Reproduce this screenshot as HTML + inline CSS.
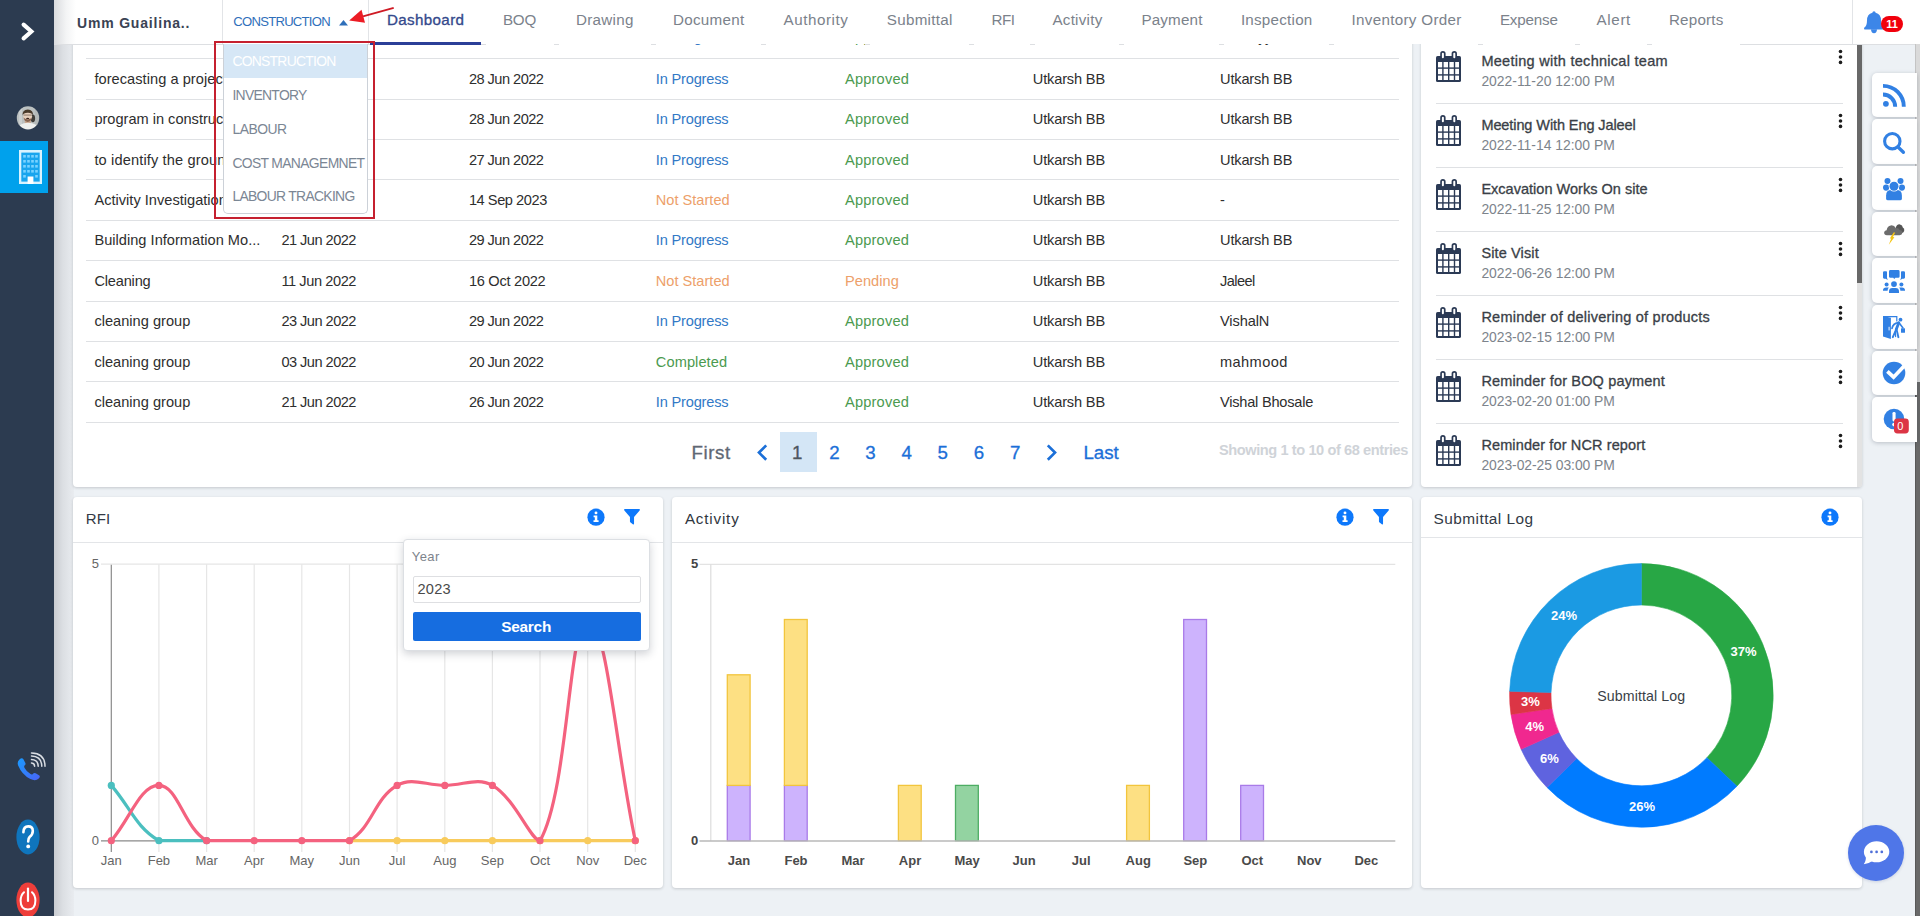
<!DOCTYPE html>
<html lang="en">
<head>
<meta charset="utf-8">
<title>Dashboard</title>
<style>
*{box-sizing:border-box;margin:0;padding:0}
html,body{width:1920px;height:916px;overflow:hidden}
body{position:relative;background:#edf1f5;font-family:"Liberation Sans",sans-serif;color:#2f2f2f;font-size:15px}
.abs{position:absolute}
svg{display:block}
/* sidebar */
#side{position:absolute;left:0;top:0;width:54px;height:916px;background:#2c3b50;z-index:30}
#sideshadow{position:absolute;left:54px;top:0;width:20px;height:916px;background:linear-gradient(90deg,#c9ccd1 0%,#dcdfe3 45%,#e9ecf0 100%);z-index:1}
#side .active{position:absolute;left:0;top:141px;width:48px;height:52px;background:#00a1ec}
/* topnav */
#top{position:absolute;left:54px;top:0;width:1866px;height:44px;background:#fff;z-index:20}
#top .shade{position:absolute;left:0;top:0;width:22px;height:44px;background:linear-gradient(90deg,#d9dbde 0%,#f3f4f5 55%,#fff 100%)}
#top .vsep{position:absolute;top:0;width:1px;height:44px;background:#e2e4e7}
.t{position:absolute;white-space:nowrap;line-height:20px}
.nav{color:#7b828b;font-size:15.5px;top:12px}
/* cards */
.card{position:absolute;background:#fff;border-radius:4px;box-shadow:0 1px 3px rgba(40,45,50,.2);z-index:2}
.hl{position:absolute;height:1px;background:#dfe1e4}
.row{color:#2e2e2e;font-size:15.5px}
.c-blue{color:#3279c6}.c-green{color:#4b9a4f}.c-orange{color:#eda06a}
</style>
</head>
<body>
<div id="sideshadow"></div>
<!-- SIDEBAR -->
<div id="side">
  <svg class="abs" style="left:18px;top:18px" width="20" height="26" viewBox="0 0 20 26"><path d="M5.6 6.6 L13.4 13.5 L5.6 20.4" fill="none" stroke="#fff" stroke-width="4.1" stroke-linecap="round" stroke-linejoin="miter"/></svg>
  <!-- avatar -->
  <svg class="abs" style="left:16px;top:105.5px" width="24" height="24" viewBox="0 0 24 24">
    <defs><clipPath id="av"><ellipse cx="12" cy="11.9" rx="11.2" ry="11.6"/></clipPath><filter id="avb" x="-10%" y="-10%" width="120%" height="120%"><feGaussianBlur stdDeviation=".55"/></filter></defs>
    <g clip-path="url(#av)"><g filter="url(#avb)">
      <rect x="-2" y="-2" width="28" height="28" fill="#bcc1c1"/>
      <rect x="3" y="-2" width="3" height="20" fill="#cbcfcf"/>
      <rect x="19" y="-2" width="6" height="20" fill="#b4b9b9"/>
      <ellipse cx="16.9" cy="12.4" rx="2.2" ry="3.8" fill="#3f3d38"/>
      <rect x="8.8" y="13.5" width="6" height="5" fill="#c9a68d"/>
      <ellipse cx="12" cy="23" rx="10.4" ry="6.3" fill="#eff0ee"/>
      <ellipse cx="11.7" cy="10.2" rx="4.4" ry="5.3" fill="#e6cfbc"/>
      <path d="M6.6 9.4 Q6 4 11.8 3.6 Q17.6 4 16.9 9.4 Q16.2 6.6 11.8 6.7 Q7.4 6.6 6.6 9.4Z" fill="#4a3a2b"/>
      <path d="M7.6 11.6 Q8.2 15.8 11.7 15.9 Q15.2 15.8 15.8 11.6 Q14.6 13.4 11.7 13.2 Q8.8 13.4 7.6 11.6Z" fill="#86634f"/>
      <rect x="7.6" y="8.7" width="8.2" height=".7" fill="#6a574a"/>
      <ellipse cx="11.7" cy="12.4" rx="1.6" ry=".6" fill="#3b241c"/>
    </g></g>
  </svg>
  <div class="active"></div>
  <!-- building icon -->
  <svg class="abs" style="left:19px;top:150px" width="23" height="34" viewBox="0 0 23 34">
    <rect x="0" y="0" width="23" height="34" fill="#d9f3ff"/>
    <rect x="2.3" y="2.6" width="18.4" height="29" fill="#19a5ee"/>
    <g fill="#7ad3ff">
      <rect x="4.2" y="5" width="2.6" height="2.6"/><rect x="8.2" y="5" width="2.6" height="2.6"/><rect x="12.2" y="5" width="2.6" height="2.6"/><rect x="16.2" y="5" width="2.6" height="2.6"/>
      <rect x="4.2" y="10" width="2.6" height="2.6"/><rect x="8.2" y="10" width="2.6" height="2.6"/><rect x="12.2" y="10" width="2.6" height="2.6"/><rect x="16.2" y="10" width="2.6" height="2.6"/>
      <rect x="4.2" y="15" width="2.6" height="2.6"/><rect x="8.2" y="15" width="2.6" height="2.6"/><rect x="12.2" y="15" width="2.6" height="2.6"/><rect x="16.2" y="15" width="2.6" height="2.6"/>
      <rect x="4.2" y="20" width="2.6" height="2.6"/><rect x="8.2" y="20" width="2.6" height="2.6"/><rect x="12.2" y="20" width="2.6" height="2.6"/><rect x="16.2" y="20" width="2.6" height="2.6"/>
      <rect x="4.2" y="25" width="2.6" height="2.6"/><rect x="16.2" y="25" width="2.6" height="2.6"/>
    </g>
    <rect x="8.6" y="26.5" width="5.8" height="7.5" fill="#fff"/>
  </svg>
  <!-- phone -->
  <svg class="abs" style="left:16px;top:750px" width="32" height="34" viewBox="0 0 32 34">
    <defs><linearGradient id="ph" x1="0" y1="0" x2="1" y2="1"><stop offset="0" stop-color="#199bff"/><stop offset="1" stop-color="#4a63f5"/></linearGradient></defs>
    <g transform="translate(-.4 4) scale(.85)"><path d="M4.5 6.5 Q7.5 3.5 9 6 L11.5 10.5 Q12.3 12.2 10.5 13.6 Q9.6 14.5 10.6 16.4 Q13 21 17.6 23.6 Q19.2 24.5 20.2 23.4 Q21.8 21.6 23.6 22.6 L27.5 25 Q29.6 26.4 27.2 28.8 Q23.6 32.4 17.4 29.4 Q7.4 24.2 3 13.4 Q1.4 9.4 4.5 6.5Z" fill="url(#ph)"/></g>
    <g fill="none" stroke="#d9dde3" stroke-width="1.5" stroke-linecap="round" transform="translate(-1 1.6)">
      <path d="M16.5 11.5 Q19.5 11.6 19.6 14.6"/>
      <path d="M16.5 8 Q23 8.2 23.2 14.6"/>
      <path d="M16.5 4.5 Q26.6 4.8 26.8 14.6"/>
      <path d="M16.5 1.4 Q29.8 1.6 30 14.6"/>
    </g>
  </svg>
  <!-- help -->
  <svg class="abs" style="left:16px;top:819px" width="24" height="36" viewBox="0 0 24 36">
    <ellipse cx="12" cy="18" rx="11.6" ry="17.4" fill="#0f75bd"/>
    <path d="M7.4 13.2 Q7.6 7.4 12.2 7.4 Q16.8 7.4 16.8 12 Q16.8 15.4 13.6 18 Q12.2 19.4 12.2 22.4" fill="none" stroke="#fff" stroke-width="2.6" stroke-linecap="round"/>
    <circle cx="12.2" cy="27.4" r="1.9" fill="#fff"/>
  </svg>
  <!-- power -->
  <svg class="abs" style="left:16px;top:882px" width="24" height="36" viewBox="0 0 24 36">
    <ellipse cx="12" cy="18" rx="11.6" ry="17.4" fill="#ee3e3a"/>
    <path d="M8 10.2 Q4.6 13.2 4.6 18.6 Q4.6 27.6 12 27.6 Q19.4 27.6 19.4 18.6 Q19.4 13.2 16 10.2" fill="none" stroke="#fff" stroke-width="2" stroke-linecap="round"/>
    <path d="M12 6.6 V19" stroke="#fff" stroke-width="2.2" stroke-linecap="round"/>
  </svg>
</div>
<!-- TOPNAV -->
<div id="top">
  <div class="shade"></div>
  <div class="vsep" style="left:168px"></div>
  <svg class="abs" style="left:285px;top:20px" width="9" height="6" viewBox="0 0 9 6"><path d="M0 5.5 L4.5 0 L9 5.5Z" fill="#2f6fba"/></svg>
  <div class="vsep" style="left:314px"></div>
  <!-- red arrow -->
  <svg class="abs" style="left:290px;top:2px" width="54" height="26" viewBox="0 0 54 26"><path d="M49.7 5.9 L19 14.3" stroke="#cf1a24" stroke-width="1.9" fill="none"/><path d="M5.2 18.4 L17.5 7.8 L21 20.7Z" fill="#ec1c25"/></svg>
  <div class="abs" style="left:316px;top:42px;width:111px;height:3px;background:#2b3f98;z-index:3"></div>
  <div class="vsep" style="left:1798px;top:0;height:44px"></div>
  <!-- bell -->
  <svg class="abs" style="left:1809px;top:10px" width="22" height="24" viewBox="0 0 22 24"><path d="M11 1.2 Q12.6 1.2 12.6 2.8 Q18 4.2 18 10.4 Q18 15.6 20.6 17.6 Q21.4 18.4 20.6 19.4 L1.4 19.4 Q.6 18.4 1.4 17.6 Q4 15.6 4 10.4 Q4 4.2 9.4 2.8 Q9.4 1.2 11 1.2Z" fill="#3c86e8"/><path d="M8 19.2 H14 Q13.8 23.2 11 23.2 Q8.2 23.2 8 19.2Z" fill="#3c86e8"/></svg>
  <div class="abs" style="left:1827px;top:16px;width:22px;height:16px;border-radius:8px;background:#f1000c;color:#fff;font-size:11px;font-weight:bold;text-align:center;line-height:16px">11</div>
</div>
<div class="t" id="x1" style="left:77.0px;top:13px;font-size:14px;color:#3a4354;font-weight:bold;z-index:21;letter-spacing:0.81px;">Umm Guailina..</div>
<div class="t" id="x2" style="left:233.3px;top:12px;font-size:13.1px;color:#2f6fba;z-index:21;letter-spacing:-0.74px;">CONSTRUCTION</div>
<div class="t" id="x3" style="left:386.9px;top:10px;font-size:15.2px;color:#34498c;-webkit-text-stroke:.32px #34498c;z-index:21;letter-spacing:0.35px;">Dashboard</div>
<div class="t" id="x4" style="left:502.9px;top:10px;font-size:15.2px;color:#7b828b;z-index:21;letter-spacing:-0.17px;">BOQ</div>
<div class="t" id="x5" style="left:575.9px;top:10px;font-size:15.2px;color:#7b828b;z-index:21;letter-spacing:0.29px;">Drawing</div>
<div class="t" id="x6" style="left:672.9px;top:10px;font-size:15.2px;color:#7b828b;z-index:21;letter-spacing:0.31px;">Document</div>
<div class="t" id="x7" style="left:783.5px;top:10px;font-size:15.2px;color:#7b828b;z-index:21;letter-spacing:0.55px;">Authority</div>
<div class="t" id="x8" style="left:886.8px;top:10px;font-size:15.2px;color:#7b828b;z-index:21;letter-spacing:0.28px;">Submittal</div>
<div class="t" id="x9" style="left:991.5px;top:10px;font-size:15.2px;color:#7b828b;z-index:21;letter-spacing:-0.52px;">RFI</div>
<div class="t" id="x10" style="left:1052.4px;top:10px;font-size:15.2px;color:#7b828b;z-index:21;letter-spacing:0.26px;">Activity</div>
<div class="t" id="x11" style="left:1141.4px;top:10px;font-size:15.2px;color:#7b828b;z-index:21;letter-spacing:0.17px;">Payment</div>
<div class="t" id="x12" style="left:1240.9px;top:10px;font-size:15.2px;color:#7b828b;z-index:21;letter-spacing:0.24px;">Inspection</div>
<div class="t" id="x13" style="left:1351.6px;top:10px;font-size:15.2px;color:#7b828b;z-index:21;letter-spacing:0.30px;">Inventory Order</div>
<div class="t" id="x14" style="left:1499.9px;top:10px;font-size:15.2px;color:#7b828b;z-index:21;letter-spacing:-0.18px;">Expense</div>
<div class="t" id="x15" style="left:1596.6px;top:10px;font-size:15.2px;color:#7b828b;z-index:21;letter-spacing:0.62px;">Alert</div>
<div class="t" id="x16" style="left:1668.9px;top:10px;font-size:15.2px;color:#7b828b;z-index:21;letter-spacing:0.21px;">Reports</div>
<div class="abs" style="left:54px;top:44px;width:316px;height:1px;background:#dddfe2;z-index:11"></div>
<div class="abs" style="left:481.0px;top:44px;width:5px;height:1px;background:#dddfe2;z-index:11"></div>
<div class="abs" style="left:554.0px;top:44px;width:5px;height:1px;background:#dddfe2;z-index:11"></div>
<div class="abs" style="left:650.5px;top:44px;width:5px;height:1px;background:#dddfe2;z-index:11"></div>
<div class="abs" style="left:761.3px;top:44px;width:5px;height:1px;background:#dddfe2;z-index:11"></div>
<div class="abs" style="left:864.7px;top:44px;width:5px;height:1px;background:#dddfe2;z-index:11"></div>
<div class="abs" style="left:969.4px;top:44px;width:5px;height:1px;background:#dddfe2;z-index:11"></div>
<div class="abs" style="left:1030.4px;top:44px;width:5px;height:1px;background:#dddfe2;z-index:11"></div>
<div class="abs" style="left:1119.3px;top:44px;width:5px;height:1px;background:#dddfe2;z-index:11"></div>
<div class="abs" style="left:1219.0px;top:44px;width:5px;height:1px;background:#dddfe2;z-index:11"></div>
<div class="abs" style="left:1329.4px;top:44px;width:5px;height:1px;background:#dddfe2;z-index:11"></div>
<div class="abs" style="left:1478.0px;top:44px;width:5px;height:1px;background:#dddfe2;z-index:11"></div>
<div class="abs" style="left:1574.7px;top:44px;width:5px;height:1px;background:#dddfe2;z-index:11"></div>
<div class="abs" style="left:1647.0px;top:44px;width:5px;height:1px;background:#dddfe2;z-index:11"></div>
<div class="abs" style="left:1740px;top:44px;width:180px;height:1px;background:#dddfe2;z-index:11"></div>
<div class="card" style="left:73px;top:-20px;width:1339px;height:507.3px"></div>
<div id="tbl" class="abs" style="left:0;top:0;width:1920px;height:500px;z-index:3">
<div class="hl" style="left:86px;top:58px;width:1313px"></div>
<div class="hl" style="left:86px;top:99px;width:1313px"></div>
<div class="hl" style="left:86px;top:139px;width:1313px"></div>
<div class="hl" style="left:86px;top:179px;width:1313px"></div>
<div class="hl" style="left:86px;top:220px;width:1313px"></div>
<div class="hl" style="left:86px;top:260px;width:1313px"></div>
<div class="hl" style="left:86px;top:301px;width:1313px"></div>
<div class="hl" style="left:86px;top:341px;width:1313px"></div>
<div class="hl" style="left:86px;top:381px;width:1313px"></div>
<div class="hl" style="left:86px;top:422px;width:1313px"></div>
<div class="t" id="x17" style="left:94.4px;top:27px;font-size:14.6px;color:#2e2e2e;letter-spacing:0.46px;">activity for project</div>
<div class="t" id="x18" style="left:281.4px;top:27px;font-size:14.6px;color:#2e2e2e;letter-spacing:-0.53px;">20 Jun 2022</div>
<div class="t" id="x19" style="left:468.9px;top:27px;font-size:14.6px;color:#2e2e2e;letter-spacing:-0.53px;">28 Jun 2022</div>
<div class="t" id="x20" style="left:655.8px;top:27px;font-size:14.6px;color:#3279c6;letter-spacing:-0.18px;">In Progress</div>
<div class="t" id="x21" style="left:845.0px;top:27px;font-size:14.6px;color:#4b9a4f;letter-spacing:0.19px;">Approved</div>
<div class="t" id="x22" style="left:1032.8px;top:27px;font-size:14.6px;color:#2e2e2e;letter-spacing:-0.16px;">Utkarsh BB</div>
<div class="t" id="x23" style="left:1220.0px;top:27px;font-size:14.6px;color:#2e2e2e;letter-spacing:-0.56px;">Jaleel yy</div>
<div class="t" id="x24" style="left:94.4px;top:69px;font-size:14.6px;color:#2e2e2e;letter-spacing:0.05px;">forecasting a project</div>
<div class="t" id="x25" style="left:281.4px;top:69px;font-size:14.6px;color:#2e2e2e;letter-spacing:-0.53px;">20 Jun 2022</div>
<div class="t" id="x26" style="left:468.9px;top:69px;font-size:14.6px;color:#2e2e2e;letter-spacing:-0.53px;">28 Jun 2022</div>
<div class="t" id="x27" style="left:655.8px;top:69px;font-size:14.6px;color:#3279c6;letter-spacing:-0.18px;">In Progress</div>
<div class="t" id="x28" style="left:845.0px;top:69px;font-size:14.6px;color:#4b9a4f;letter-spacing:0.19px;">Approved</div>
<div class="t" id="x29" style="left:1032.8px;top:69px;font-size:14.6px;color:#2e2e2e;letter-spacing:-0.16px;">Utkarsh BB</div>
<div class="t" id="x30" style="left:1220.0px;top:69px;font-size:14.6px;color:#2e2e2e;letter-spacing:-0.16px;">Utkarsh BB</div>
<div class="t" id="x31" style="left:94.4px;top:109px;font-size:14.6px;color:#2e2e2e;letter-spacing:-0.01px;">program in construction</div>
<div class="t" id="x32" style="left:281.4px;top:109px;font-size:14.6px;color:#2e2e2e;letter-spacing:-0.53px;">20 Jun 2022</div>
<div class="t" id="x33" style="left:468.9px;top:109px;font-size:14.6px;color:#2e2e2e;letter-spacing:-0.53px;">28 Jun 2022</div>
<div class="t" id="x34" style="left:655.8px;top:109px;font-size:14.6px;color:#3279c6;letter-spacing:-0.18px;">In Progress</div>
<div class="t" id="x35" style="left:845.0px;top:109px;font-size:14.6px;color:#4b9a4f;letter-spacing:0.19px;">Approved</div>
<div class="t" id="x36" style="left:1032.8px;top:109px;font-size:14.6px;color:#2e2e2e;letter-spacing:-0.16px;">Utkarsh BB</div>
<div class="t" id="x37" style="left:1220.0px;top:109px;font-size:14.6px;color:#2e2e2e;letter-spacing:-0.16px;">Utkarsh BB</div>
<div class="t" id="x38" style="left:94.4px;top:150px;font-size:14.6px;color:#2e2e2e;letter-spacing:0.14px;">to identify the ground</div>
<div class="t" id="x39" style="left:281.4px;top:150px;font-size:14.6px;color:#2e2e2e;letter-spacing:-0.53px;">20 Jun 2022</div>
<div class="t" id="x40" style="left:468.9px;top:150px;font-size:14.6px;color:#2e2e2e;letter-spacing:-0.53px;">27 Jun 2022</div>
<div class="t" id="x41" style="left:655.8px;top:150px;font-size:14.6px;color:#3279c6;letter-spacing:-0.18px;">In Progress</div>
<div class="t" id="x42" style="left:845.0px;top:150px;font-size:14.6px;color:#4b9a4f;letter-spacing:0.19px;">Approved</div>
<div class="t" id="x43" style="left:1032.8px;top:150px;font-size:14.6px;color:#2e2e2e;letter-spacing:-0.16px;">Utkarsh BB</div>
<div class="t" id="x44" style="left:1220.0px;top:150px;font-size:14.6px;color:#2e2e2e;letter-spacing:-0.16px;">Utkarsh BB</div>
<div class="t" id="x45" style="left:94.4px;top:190px;font-size:14.6px;color:#2e2e2e;letter-spacing:0.01px;">Activity Investigation</div>
<div class="t" id="x46" style="left:281.4px;top:190px;font-size:14.6px;color:#2e2e2e;letter-spacing:-0.53px;">20 Jun 2022</div>
<div class="t" id="x47" style="left:468.9px;top:190px;font-size:14.6px;color:#2e2e2e;letter-spacing:-0.44px;">14 Sep 2023</div>
<div class="t" id="x48" style="left:655.8px;top:190px;font-size:14.6px;color:#eda06a;letter-spacing:0.00px;">Not Started</div>
<div class="t" id="x49" style="left:845.0px;top:190px;font-size:14.6px;color:#4b9a4f;letter-spacing:0.19px;">Approved</div>
<div class="t" id="x50" style="left:1032.8px;top:190px;font-size:14.6px;color:#2e2e2e;letter-spacing:-0.16px;">Utkarsh BB</div>
<div class="t" id="x51" style="left:1220.0px;top:190px;font-size:14.6px;color:#2e2e2e;">-</div>
<div class="t" id="x52" style="left:94.4px;top:230px;font-size:14.6px;color:#2e2e2e;letter-spacing:0.02px;">Building Information Mo...</div>
<div class="t" id="x53" style="left:281.4px;top:230px;font-size:14.6px;color:#2e2e2e;letter-spacing:-0.53px;">21 Jun 2022</div>
<div class="t" id="x54" style="left:468.9px;top:230px;font-size:14.6px;color:#2e2e2e;letter-spacing:-0.53px;">29 Jun 2022</div>
<div class="t" id="x55" style="left:655.8px;top:230px;font-size:14.6px;color:#3279c6;letter-spacing:-0.18px;">In Progress</div>
<div class="t" id="x56" style="left:845.0px;top:230px;font-size:14.6px;color:#4b9a4f;letter-spacing:0.19px;">Approved</div>
<div class="t" id="x57" style="left:1032.8px;top:230px;font-size:14.6px;color:#2e2e2e;letter-spacing:-0.16px;">Utkarsh BB</div>
<div class="t" id="x58" style="left:1220.0px;top:230px;font-size:14.6px;color:#2e2e2e;letter-spacing:-0.16px;">Utkarsh BB</div>
<div class="t" id="x59" style="left:94.4px;top:271px;font-size:14.6px;color:#2e2e2e;letter-spacing:-0.18px;">Cleaning</div>
<div class="t" id="x60" style="left:281.4px;top:271px;font-size:14.6px;color:#2e2e2e;letter-spacing:-0.42px;">11 Jun 2022</div>
<div class="t" id="x61" style="left:468.9px;top:271px;font-size:14.6px;color:#2e2e2e;letter-spacing:-0.27px;">16 Oct 2022</div>
<div class="t" id="x62" style="left:655.8px;top:271px;font-size:14.6px;color:#eda06a;letter-spacing:0.00px;">Not Started</div>
<div class="t" id="x63" style="left:845.0px;top:271px;font-size:14.6px;color:#eda06a;letter-spacing:0.05px;">Pending</div>
<div class="t" id="x64" style="left:1032.8px;top:271px;font-size:14.6px;color:#2e2e2e;letter-spacing:-0.16px;">Utkarsh BB</div>
<div class="t" id="x65" style="left:1220.0px;top:271px;font-size:14.6px;color:#2e2e2e;letter-spacing:-0.56px;">Jaleel</div>
<div class="t" id="x66" style="left:94.4px;top:311px;font-size:14.6px;color:#2e2e2e;letter-spacing:0.01px;">cleaning group</div>
<div class="t" id="x67" style="left:281.4px;top:311px;font-size:14.6px;color:#2e2e2e;letter-spacing:-0.53px;">23 Jun 2022</div>
<div class="t" id="x68" style="left:468.9px;top:311px;font-size:14.6px;color:#2e2e2e;letter-spacing:-0.53px;">29 Jun 2022</div>
<div class="t" id="x69" style="left:655.8px;top:311px;font-size:14.6px;color:#3279c6;letter-spacing:-0.18px;">In Progress</div>
<div class="t" id="x70" style="left:845.0px;top:311px;font-size:14.6px;color:#4b9a4f;letter-spacing:0.19px;">Approved</div>
<div class="t" id="x71" style="left:1032.8px;top:311px;font-size:14.6px;color:#2e2e2e;letter-spacing:-0.16px;">Utkarsh BB</div>
<div class="t" id="x72" style="left:1220.0px;top:311px;font-size:14.6px;color:#2e2e2e;letter-spacing:-0.12px;">VishalN</div>
<div class="t" id="x73" style="left:94.4px;top:352px;font-size:14.6px;color:#2e2e2e;letter-spacing:0.01px;">cleaning group</div>
<div class="t" id="x74" style="left:281.4px;top:352px;font-size:14.6px;color:#2e2e2e;letter-spacing:-0.53px;">03 Jun 2022</div>
<div class="t" id="x75" style="left:468.9px;top:352px;font-size:14.6px;color:#2e2e2e;letter-spacing:-0.53px;">20 Jun 2022</div>
<div class="t" id="x76" style="left:655.8px;top:352px;font-size:14.6px;color:#4b9a4f;letter-spacing:0.09px;">Completed</div>
<div class="t" id="x77" style="left:845.0px;top:352px;font-size:14.6px;color:#4b9a4f;letter-spacing:0.19px;">Approved</div>
<div class="t" id="x78" style="left:1032.8px;top:352px;font-size:14.6px;color:#2e2e2e;letter-spacing:-0.16px;">Utkarsh BB</div>
<div class="t" id="x79" style="left:1220.0px;top:352px;font-size:14.6px;color:#2e2e2e;letter-spacing:0.40px;">mahmood</div>
<div class="t" id="x80" style="left:94.4px;top:392px;font-size:14.6px;color:#2e2e2e;letter-spacing:0.01px;">cleaning group</div>
<div class="t" id="x81" style="left:281.4px;top:392px;font-size:14.6px;color:#2e2e2e;letter-spacing:-0.53px;">21 Jun 2022</div>
<div class="t" id="x82" style="left:468.9px;top:392px;font-size:14.6px;color:#2e2e2e;letter-spacing:-0.53px;">26 Jun 2022</div>
<div class="t" id="x83" style="left:655.8px;top:392px;font-size:14.6px;color:#3279c6;letter-spacing:-0.18px;">In Progress</div>
<div class="t" id="x84" style="left:845.0px;top:392px;font-size:14.6px;color:#4b9a4f;letter-spacing:0.19px;">Approved</div>
<div class="t" id="x85" style="left:1032.8px;top:392px;font-size:14.6px;color:#2e2e2e;letter-spacing:-0.16px;">Utkarsh BB</div>
<div class="t" id="x86" style="left:1220.0px;top:392px;font-size:14.6px;color:#2e2e2e;letter-spacing:-0.23px;">Vishal Bhosale</div>
<div class="abs" style="left:780px;top:432px;width:37px;height:40px;background:#d4e6f6"></div>
<div class="t" id="x87" style="left:691.5px;top:443px;font-size:18.7px;color:#5f6874;-webkit-text-stroke:.32px #5f6874;letter-spacing:0.57px;">First</div>
<svg class="abs" style="left:755px;top:443px" width="14" height="19" viewBox="0 0 14 19"><path d="M11.2 2.4 L4 9.6 L11.2 16.8" fill="none" stroke="#1b6fd8" stroke-width="2.7"/></svg>
<div class="t" id="x88" style="left:792.0px;top:443px;font-size:18.7px;color:#4d5560;-webkit-text-stroke:.32px #4d5560;">1</div>
<div class="t" id="x89" style="left:829.2px;top:443px;font-size:18.7px;color:#1b6fd8;-webkit-text-stroke:.32px #1b6fd8;">2</div>
<div class="t" id="x90" style="left:865.3px;top:443px;font-size:18.7px;color:#1b6fd8;-webkit-text-stroke:.32px #1b6fd8;">3</div>
<div class="t" id="x91" style="left:901.5px;top:443px;font-size:18.7px;color:#1b6fd8;-webkit-text-stroke:.32px #1b6fd8;">4</div>
<div class="t" id="x92" style="left:937.6px;top:443px;font-size:18.7px;color:#1b6fd8;-webkit-text-stroke:.32px #1b6fd8;">5</div>
<div class="t" id="x93" style="left:973.8px;top:443px;font-size:18.7px;color:#1b6fd8;-webkit-text-stroke:.32px #1b6fd8;">6</div>
<div class="t" id="x94" style="left:1009.9px;top:443px;font-size:18.7px;color:#1b6fd8;-webkit-text-stroke:.32px #1b6fd8;">7</div>
<svg class="abs" style="left:1045px;top:443px" width="14" height="19" viewBox="0 0 14 19"><path d="M2.8 2.4 L10 9.6 L2.8 16.8" fill="none" stroke="#1b6fd8" stroke-width="2.7"/></svg>
<div class="t" id="x95" style="left:1083.4px;top:443px;font-size:18.7px;color:#1b6fd8;-webkit-text-stroke:.32px #1b6fd8;letter-spacing:0.02px;">Last</div>
<div class="t" id="x96" style="left:1219.0px;top:440px;font-size:14.6px;color:#cfd3d8;font-weight:bold;letter-spacing:-0.42px;">Showing 1 to 10 of 68 entries</div>
</div>
<div class="abs" style="left:223px;top:44px;width:145px;height:170px;background:#fff;border:1px solid #ccd1d8;border-top:none;border-radius:0 0 5px 5px;z-index:12"></div>
<div class="abs" style="left:224px;top:44px;width:143px;height:33.5px;background:#d6e7f6;z-index:13"></div>
<div class="t" id="x97" style="left:232.4px;top:51px;font-size:13.9px;color:#fff;z-index:14;letter-spacing:-0.73px;">CONSTRUCTION</div>
<div class="t" id="x98" style="left:232.4px;top:85px;font-size:13.9px;color:#7b8694;z-index:14;letter-spacing:-0.70px;">INVENTORY</div>
<div class="t" id="x99" style="left:232.4px;top:119px;font-size:13.9px;color:#7b8694;z-index:14;letter-spacing:-0.48px;">LABOUR</div>
<div class="t" id="x100" style="left:232.4px;top:153px;font-size:13.9px;color:#7b8694;z-index:14;letter-spacing:-0.65px;">COST MANAGEMNET</div>
<div class="t" id="x101" style="left:232.4px;top:186px;font-size:13.9px;color:#7b8694;z-index:14;letter-spacing:-0.69px;">LABOUR TRACKING</div>
<div class="abs" style="left:214px;top:41px;width:161px;height:178px;border:2.2px solid #c5202f;z-index:25"></div>
<div class="card" style="left:1421px;top:-20px;width:441px;height:507.3px"></div>
<div class="abs" style="left:1857px;top:44px;width:5px;height:443.3px;background:#e3e3e3;z-index:3;border-radius:0 0 3px 0"></div>
<div class="abs" style="left:1857px;top:40px;width:5px;height:242.5px;background:#686868;z-index:4"></div>
<svg class="abs" style="left:1436px;top:51px;z-index:3" width="25" height="31" viewBox="0 0 25 31"><path d="M1.6 5 H23.4 Q25 5 25 6.6 V29.4 Q25 31 23.4 31 H1.6 Q0 31 0 29.4 V6.6 Q0 5 1.6 5Z" fill="#2b3a55"/><g fill="#fff"><rect x="2" y="11" width="4.2" height="5.4"/><rect x="7.6" y="11" width="4.4" height="5.4"/><rect x="13.4" y="11" width="4.4" height="5.4"/><rect x="19.2" y="11" width="3.8" height="5.4"/><rect x="2" y="17.8" width="4.2" height="5.4"/><rect x="7.6" y="17.8" width="4.4" height="5.4"/><rect x="13.4" y="17.8" width="4.4" height="5.4"/><rect x="19.2" y="17.8" width="3.8" height="5.4"/><rect x="2" y="24.6" width="4.2" height="4.4"/><rect x="7.6" y="24.6" width="4.4" height="4.4"/><rect x="13.4" y="24.6" width="4.4" height="4.4"/><rect x="19.2" y="24.6" width="3.8" height="4.4"/></g><rect x="4.2" y="0" width="5.4" height="8.6" rx="2.7" fill="#2b3a55"/><rect x="15.6" y="0" width="5.4" height="8.6" rx="2.7" fill="#2b3a55"/><rect x="5.9" y="1.8" width="2" height="5.4" rx="1" fill="#fff"/><rect x="17.3" y="1.8" width="2" height="5.4" rx="1" fill="#fff"/></svg>
<div class="t" id="x102" style="left:1481.4px;top:51px;font-size:14.5px;color:#3a3f47;-webkit-text-stroke:.32px #3a3f47;z-index:3;letter-spacing:0.28px;">Meeting with technical team</div>
<div class="t" id="x103" style="left:1481.4px;top:71px;font-size:13.9px;color:#7d848c;z-index:3;letter-spacing:0.00px;">2022-11-20 12:00 PM</div>
<svg class="abs" style="left:1838px;top:49px;z-index:3" width="5" height="16" viewBox="0 0 5 16"><circle cx="2.5" cy="2.5" r="1.8" fill="#1d1d1d"/><circle cx="2.5" cy="8" r="1.8" fill="#1d1d1d"/><circle cx="2.5" cy="13.4" r="1.8" fill="#1d1d1d"/></svg>
<div class="hl" style="left:1436px;top:103px;width:1407px;width:407px;z-index:3"></div>
<svg class="abs" style="left:1436px;top:115px;z-index:3" width="25" height="31" viewBox="0 0 25 31"><path d="M1.6 5 H23.4 Q25 5 25 6.6 V29.4 Q25 31 23.4 31 H1.6 Q0 31 0 29.4 V6.6 Q0 5 1.6 5Z" fill="#2b3a55"/><g fill="#fff"><rect x="2" y="11" width="4.2" height="5.4"/><rect x="7.6" y="11" width="4.4" height="5.4"/><rect x="13.4" y="11" width="4.4" height="5.4"/><rect x="19.2" y="11" width="3.8" height="5.4"/><rect x="2" y="17.8" width="4.2" height="5.4"/><rect x="7.6" y="17.8" width="4.4" height="5.4"/><rect x="13.4" y="17.8" width="4.4" height="5.4"/><rect x="19.2" y="17.8" width="3.8" height="5.4"/><rect x="2" y="24.6" width="4.2" height="4.4"/><rect x="7.6" y="24.6" width="4.4" height="4.4"/><rect x="13.4" y="24.6" width="4.4" height="4.4"/><rect x="19.2" y="24.6" width="3.8" height="4.4"/></g><rect x="4.2" y="0" width="5.4" height="8.6" rx="2.7" fill="#2b3a55"/><rect x="15.6" y="0" width="5.4" height="8.6" rx="2.7" fill="#2b3a55"/><rect x="5.9" y="1.8" width="2" height="5.4" rx="1" fill="#fff"/><rect x="17.3" y="1.8" width="2" height="5.4" rx="1" fill="#fff"/></svg>
<div class="t" id="x104" style="left:1481.4px;top:115px;font-size:14.5px;color:#3a3f47;-webkit-text-stroke:.32px #3a3f47;z-index:3;letter-spacing:-0.09px;">Meeting With Eng Jaleel</div>
<div class="t" id="x105" style="left:1481.4px;top:135px;font-size:13.9px;color:#7d848c;z-index:3;letter-spacing:0.00px;">2022-11-14 12:00 PM</div>
<svg class="abs" style="left:1838px;top:113px;z-index:3" width="5" height="16" viewBox="0 0 5 16"><circle cx="2.5" cy="2.5" r="1.8" fill="#1d1d1d"/><circle cx="2.5" cy="8" r="1.8" fill="#1d1d1d"/><circle cx="2.5" cy="13.4" r="1.8" fill="#1d1d1d"/></svg>
<div class="hl" style="left:1436px;top:167px;width:1407px;width:407px;z-index:3"></div>
<svg class="abs" style="left:1436px;top:179px;z-index:3" width="25" height="31" viewBox="0 0 25 31"><path d="M1.6 5 H23.4 Q25 5 25 6.6 V29.4 Q25 31 23.4 31 H1.6 Q0 31 0 29.4 V6.6 Q0 5 1.6 5Z" fill="#2b3a55"/><g fill="#fff"><rect x="2" y="11" width="4.2" height="5.4"/><rect x="7.6" y="11" width="4.4" height="5.4"/><rect x="13.4" y="11" width="4.4" height="5.4"/><rect x="19.2" y="11" width="3.8" height="5.4"/><rect x="2" y="17.8" width="4.2" height="5.4"/><rect x="7.6" y="17.8" width="4.4" height="5.4"/><rect x="13.4" y="17.8" width="4.4" height="5.4"/><rect x="19.2" y="17.8" width="3.8" height="5.4"/><rect x="2" y="24.6" width="4.2" height="4.4"/><rect x="7.6" y="24.6" width="4.4" height="4.4"/><rect x="13.4" y="24.6" width="4.4" height="4.4"/><rect x="19.2" y="24.6" width="3.8" height="4.4"/></g><rect x="4.2" y="0" width="5.4" height="8.6" rx="2.7" fill="#2b3a55"/><rect x="15.6" y="0" width="5.4" height="8.6" rx="2.7" fill="#2b3a55"/><rect x="5.9" y="1.8" width="2" height="5.4" rx="1" fill="#fff"/><rect x="17.3" y="1.8" width="2" height="5.4" rx="1" fill="#fff"/></svg>
<div class="t" id="x106" style="left:1481.4px;top:179px;font-size:14.5px;color:#3a3f47;-webkit-text-stroke:.32px #3a3f47;z-index:3;letter-spacing:0.02px;">Excavation Works On site</div>
<div class="t" id="x107" style="left:1481.4px;top:199px;font-size:13.9px;color:#7d848c;z-index:3;letter-spacing:0.00px;">2022-11-25 12:00 PM</div>
<svg class="abs" style="left:1838px;top:177px;z-index:3" width="5" height="16" viewBox="0 0 5 16"><circle cx="2.5" cy="2.5" r="1.8" fill="#1d1d1d"/><circle cx="2.5" cy="8" r="1.8" fill="#1d1d1d"/><circle cx="2.5" cy="13.4" r="1.8" fill="#1d1d1d"/></svg>
<div class="hl" style="left:1436px;top:231px;width:1407px;width:407px;z-index:3"></div>
<svg class="abs" style="left:1436px;top:243px;z-index:3" width="25" height="31" viewBox="0 0 25 31"><path d="M1.6 5 H23.4 Q25 5 25 6.6 V29.4 Q25 31 23.4 31 H1.6 Q0 31 0 29.4 V6.6 Q0 5 1.6 5Z" fill="#2b3a55"/><g fill="#fff"><rect x="2" y="11" width="4.2" height="5.4"/><rect x="7.6" y="11" width="4.4" height="5.4"/><rect x="13.4" y="11" width="4.4" height="5.4"/><rect x="19.2" y="11" width="3.8" height="5.4"/><rect x="2" y="17.8" width="4.2" height="5.4"/><rect x="7.6" y="17.8" width="4.4" height="5.4"/><rect x="13.4" y="17.8" width="4.4" height="5.4"/><rect x="19.2" y="17.8" width="3.8" height="5.4"/><rect x="2" y="24.6" width="4.2" height="4.4"/><rect x="7.6" y="24.6" width="4.4" height="4.4"/><rect x="13.4" y="24.6" width="4.4" height="4.4"/><rect x="19.2" y="24.6" width="3.8" height="4.4"/></g><rect x="4.2" y="0" width="5.4" height="8.6" rx="2.7" fill="#2b3a55"/><rect x="15.6" y="0" width="5.4" height="8.6" rx="2.7" fill="#2b3a55"/><rect x="5.9" y="1.8" width="2" height="5.4" rx="1" fill="#fff"/><rect x="17.3" y="1.8" width="2" height="5.4" rx="1" fill="#fff"/></svg>
<div class="t" id="x108" style="left:1481.4px;top:243px;font-size:14.5px;color:#3a3f47;-webkit-text-stroke:.32px #3a3f47;z-index:3;letter-spacing:0.13px;">Site Visit</div>
<div class="t" id="x109" style="left:1481.4px;top:263px;font-size:13.9px;color:#7d848c;z-index:3;letter-spacing:-0.05px;">2022-06-26 12:00 PM</div>
<svg class="abs" style="left:1838px;top:241px;z-index:3" width="5" height="16" viewBox="0 0 5 16"><circle cx="2.5" cy="2.5" r="1.8" fill="#1d1d1d"/><circle cx="2.5" cy="8" r="1.8" fill="#1d1d1d"/><circle cx="2.5" cy="13.4" r="1.8" fill="#1d1d1d"/></svg>
<div class="hl" style="left:1436px;top:295px;width:1407px;width:407px;z-index:3"></div>
<svg class="abs" style="left:1436px;top:307px;z-index:3" width="25" height="31" viewBox="0 0 25 31"><path d="M1.6 5 H23.4 Q25 5 25 6.6 V29.4 Q25 31 23.4 31 H1.6 Q0 31 0 29.4 V6.6 Q0 5 1.6 5Z" fill="#2b3a55"/><g fill="#fff"><rect x="2" y="11" width="4.2" height="5.4"/><rect x="7.6" y="11" width="4.4" height="5.4"/><rect x="13.4" y="11" width="4.4" height="5.4"/><rect x="19.2" y="11" width="3.8" height="5.4"/><rect x="2" y="17.8" width="4.2" height="5.4"/><rect x="7.6" y="17.8" width="4.4" height="5.4"/><rect x="13.4" y="17.8" width="4.4" height="5.4"/><rect x="19.2" y="17.8" width="3.8" height="5.4"/><rect x="2" y="24.6" width="4.2" height="4.4"/><rect x="7.6" y="24.6" width="4.4" height="4.4"/><rect x="13.4" y="24.6" width="4.4" height="4.4"/><rect x="19.2" y="24.6" width="3.8" height="4.4"/></g><rect x="4.2" y="0" width="5.4" height="8.6" rx="2.7" fill="#2b3a55"/><rect x="15.6" y="0" width="5.4" height="8.6" rx="2.7" fill="#2b3a55"/><rect x="5.9" y="1.8" width="2" height="5.4" rx="1" fill="#fff"/><rect x="17.3" y="1.8" width="2" height="5.4" rx="1" fill="#fff"/></svg>
<div class="t" id="x110" style="left:1481.4px;top:307px;font-size:14.5px;color:#3a3f47;-webkit-text-stroke:.32px #3a3f47;z-index:3;letter-spacing:0.23px;">Reminder of delivering of products</div>
<div class="t" id="x111" style="left:1481.4px;top:327px;font-size:13.9px;color:#7d848c;z-index:3;letter-spacing:-0.05px;">2023-02-15 12:00 PM</div>
<svg class="abs" style="left:1838px;top:305px;z-index:3" width="5" height="16" viewBox="0 0 5 16"><circle cx="2.5" cy="2.5" r="1.8" fill="#1d1d1d"/><circle cx="2.5" cy="8" r="1.8" fill="#1d1d1d"/><circle cx="2.5" cy="13.4" r="1.8" fill="#1d1d1d"/></svg>
<div class="hl" style="left:1436px;top:359px;width:1407px;width:407px;z-index:3"></div>
<svg class="abs" style="left:1436px;top:371px;z-index:3" width="25" height="31" viewBox="0 0 25 31"><path d="M1.6 5 H23.4 Q25 5 25 6.6 V29.4 Q25 31 23.4 31 H1.6 Q0 31 0 29.4 V6.6 Q0 5 1.6 5Z" fill="#2b3a55"/><g fill="#fff"><rect x="2" y="11" width="4.2" height="5.4"/><rect x="7.6" y="11" width="4.4" height="5.4"/><rect x="13.4" y="11" width="4.4" height="5.4"/><rect x="19.2" y="11" width="3.8" height="5.4"/><rect x="2" y="17.8" width="4.2" height="5.4"/><rect x="7.6" y="17.8" width="4.4" height="5.4"/><rect x="13.4" y="17.8" width="4.4" height="5.4"/><rect x="19.2" y="17.8" width="3.8" height="5.4"/><rect x="2" y="24.6" width="4.2" height="4.4"/><rect x="7.6" y="24.6" width="4.4" height="4.4"/><rect x="13.4" y="24.6" width="4.4" height="4.4"/><rect x="19.2" y="24.6" width="3.8" height="4.4"/></g><rect x="4.2" y="0" width="5.4" height="8.6" rx="2.7" fill="#2b3a55"/><rect x="15.6" y="0" width="5.4" height="8.6" rx="2.7" fill="#2b3a55"/><rect x="5.9" y="1.8" width="2" height="5.4" rx="1" fill="#fff"/><rect x="17.3" y="1.8" width="2" height="5.4" rx="1" fill="#fff"/></svg>
<div class="t" id="x112" style="left:1481.4px;top:371px;font-size:14.5px;color:#3a3f47;-webkit-text-stroke:.32px #3a3f47;z-index:3;letter-spacing:0.16px;">Reminder for BOQ payment</div>
<div class="t" id="x113" style="left:1481.4px;top:391px;font-size:13.9px;color:#7d848c;z-index:3;letter-spacing:-0.05px;">2023-02-20 01:00 PM</div>
<svg class="abs" style="left:1838px;top:369px;z-index:3" width="5" height="16" viewBox="0 0 5 16"><circle cx="2.5" cy="2.5" r="1.8" fill="#1d1d1d"/><circle cx="2.5" cy="8" r="1.8" fill="#1d1d1d"/><circle cx="2.5" cy="13.4" r="1.8" fill="#1d1d1d"/></svg>
<div class="hl" style="left:1436px;top:423px;width:1407px;width:407px;z-index:3"></div>
<svg class="abs" style="left:1436px;top:435px;z-index:3" width="25" height="31" viewBox="0 0 25 31"><path d="M1.6 5 H23.4 Q25 5 25 6.6 V29.4 Q25 31 23.4 31 H1.6 Q0 31 0 29.4 V6.6 Q0 5 1.6 5Z" fill="#2b3a55"/><g fill="#fff"><rect x="2" y="11" width="4.2" height="5.4"/><rect x="7.6" y="11" width="4.4" height="5.4"/><rect x="13.4" y="11" width="4.4" height="5.4"/><rect x="19.2" y="11" width="3.8" height="5.4"/><rect x="2" y="17.8" width="4.2" height="5.4"/><rect x="7.6" y="17.8" width="4.4" height="5.4"/><rect x="13.4" y="17.8" width="4.4" height="5.4"/><rect x="19.2" y="17.8" width="3.8" height="5.4"/><rect x="2" y="24.6" width="4.2" height="4.4"/><rect x="7.6" y="24.6" width="4.4" height="4.4"/><rect x="13.4" y="24.6" width="4.4" height="4.4"/><rect x="19.2" y="24.6" width="3.8" height="4.4"/></g><rect x="4.2" y="0" width="5.4" height="8.6" rx="2.7" fill="#2b3a55"/><rect x="15.6" y="0" width="5.4" height="8.6" rx="2.7" fill="#2b3a55"/><rect x="5.9" y="1.8" width="2" height="5.4" rx="1" fill="#fff"/><rect x="17.3" y="1.8" width="2" height="5.4" rx="1" fill="#fff"/></svg>
<div class="t" id="x114" style="left:1481.4px;top:435px;font-size:14.5px;color:#3a3f47;-webkit-text-stroke:.32px #3a3f47;z-index:3;letter-spacing:0.12px;">Reminder for NCR report</div>
<div class="t" id="x115" style="left:1481.4px;top:455px;font-size:13.9px;color:#7d848c;z-index:3;letter-spacing:-0.05px;">2023-02-25 03:00 PM</div>
<svg class="abs" style="left:1838px;top:433px;z-index:3" width="5" height="16" viewBox="0 0 5 16"><circle cx="2.5" cy="2.5" r="1.8" fill="#1d1d1d"/><circle cx="2.5" cy="8" r="1.8" fill="#1d1d1d"/><circle cx="2.5" cy="13.4" r="1.8" fill="#1d1d1d"/></svg>
<div class="card" style="left:73px;top:497px;width:590px;height:390.5px"></div>
<div class="hl" style="left:73px;top:542px;width:590px;z-index:3;background:#e3e5e8"></div>
<div class="t" id="x116" style="left:85.7px;top:509px;font-size:15px;color:#333a45;z-index:3;letter-spacing:0.11px;">RFI</div>
<svg class="abs" style="left:587.1px;top:508.2px;z-index:3" width="18" height="18" viewBox="0 0 18 18"><circle cx="9" cy="9.2" r="8.6" fill="#0d78fb"/><circle cx="9" cy="4.9" r="1.45" fill="#fff"/><path d="M6.6 7.6 H10.3 V12.3 H11.6 V13.9 H6.5 V12.3 H7.8 V9.2 H6.6Z" fill="#fff"/></svg>
<svg class="abs" style="left:624.2px;top:509.0px;z-index:3" width="16" height="16" viewBox="0 0 18 17" preserveAspectRatio="none"><path d="M.9 0 H17.1 Q18.4 .3 17.6 1.5 L11.3 8.6 V15.6 Q11.1 16.9 9.9 16.2 L7.1 14.1 Q6.7 13.7 6.7 13.2 V8.6 L.4 1.5 Q-.4 .3 .9 0Z" fill="#0d78fb"/></svg>
<svg class="abs" style="left:73px;top:497px;z-index:3" width="590" height="390" viewBox="73 497 590 390"><path d="M111.3 564.2 V852" stroke="#8a8a8a" stroke-width="1.2"/><path d="M158.9 564.2 V852" stroke="#e6e6e6" stroke-width="1.2"/><path d="M206.6 564.2 V852" stroke="#e6e6e6" stroke-width="1.2"/><path d="M254.2 564.2 V852" stroke="#e6e6e6" stroke-width="1.2"/><path d="M301.8 564.2 V852" stroke="#e6e6e6" stroke-width="1.2"/><path d="M349.5 564.2 V852" stroke="#e6e6e6" stroke-width="1.2"/><path d="M397.1 564.2 V852" stroke="#e6e6e6" stroke-width="1.2"/><path d="M444.8 564.2 V852" stroke="#e6e6e6" stroke-width="1.2"/><path d="M492.4 564.2 V852" stroke="#e6e6e6" stroke-width="1.2"/><path d="M540.0 564.2 V852" stroke="#e6e6e6" stroke-width="1.2"/><path d="M587.7 564.2 V852" stroke="#e6e6e6" stroke-width="1.2"/><path d="M635.3 564.2 V852" stroke="#e6e6e6" stroke-width="1.2"/><path d="M101 564.2 H636" stroke="#e6e6e6" stroke-width="1.2"/><path d="M101 840.9 H636" stroke="#8a8a8a" stroke-width="1.2"/><path d="M349.5 840.7 C368.5 840.7 378.1 840.7 397.1 840.7 C416.2 840.7 425.7 840.7 444.8 840.7 C463.8 840.7 473.3 840.7 492.4 840.7 C511.4 840.7 521.0 840.7 540.0 840.7 C559.1 840.7 568.6 840.7 587.7 840.7 C606.7 840.7 616.2 840.7 635.3 840.7" fill="none" stroke="#f8cb5c" stroke-width="3.2" stroke-linejoin="round"/><circle cx="349.5" cy="840.7" r="3.6" fill="#f8cb5c"/><circle cx="397.1" cy="840.7" r="3.6" fill="#f8cb5c"/><circle cx="444.8" cy="840.7" r="3.6" fill="#f8cb5c"/><circle cx="492.4" cy="840.7" r="3.6" fill="#f8cb5c"/><circle cx="540.0" cy="840.7" r="3.6" fill="#f8cb5c"/><circle cx="587.7" cy="840.7" r="3.6" fill="#f8cb5c"/><circle cx="635.3" cy="840.7" r="3.6" fill="#f8cb5c"/><path d="M111.3 785.4 C130.4 807.5 135.9 827.3 158.9 840.7 C174.0 840.7 187.5 840.7 206.6 840.7" fill="none" stroke="#4bbfbf" stroke-width="3.2" stroke-linejoin="round"/><circle cx="111.3" cy="785.4" r="3.6" fill="#4bbfbf"/><circle cx="158.9" cy="840.7" r="3.6" fill="#4bbfbf"/><circle cx="206.6" cy="840.7" r="3.6" fill="#4bbfbf"/><path d="M111.3 840.7 C130.4 818.6 139.9 785.4 158.9 785.4 C178.0 785.4 183.5 827.3 206.6 840.7 C221.6 840.7 235.2 840.7 254.2 840.7 C273.3 840.7 282.8 840.7 301.8 840.7 C320.9 840.7 334.4 840.7 349.5 840.7 C372.5 827.3 374.1 798.8 397.1 785.4 C412.2 776.7 425.7 785.4 444.8 785.4 C463.8 785.4 477.3 776.7 492.4 785.4 C515.4 798.8 530.7 840.7 540.0 840.7 C568.8 790.5 568.6 619.5 587.7 619.5 C606.7 619.5 616.2 752.2 635.3 840.7" fill="none" stroke="#f4627f" stroke-width="3.2" stroke-linejoin="round"/><circle cx="111.3" cy="840.7" r="3.6" fill="#f4627f"/><circle cx="158.9" cy="785.4" r="3.6" fill="#f4627f"/><circle cx="206.6" cy="840.7" r="3.6" fill="#f4627f"/><circle cx="254.2" cy="840.7" r="3.6" fill="#f4627f"/><circle cx="301.8" cy="840.7" r="3.6" fill="#f4627f"/><circle cx="349.5" cy="840.7" r="3.6" fill="#f4627f"/><circle cx="397.1" cy="785.4" r="3.6" fill="#f4627f"/><circle cx="444.8" cy="785.4" r="3.6" fill="#f4627f"/><circle cx="492.4" cy="785.4" r="3.6" fill="#f4627f"/><circle cx="540.0" cy="840.7" r="3.6" fill="#f4627f"/><circle cx="587.7" cy="619.5" r="3.6" fill="#f4627f"/><circle cx="635.3" cy="840.7" r="3.6" fill="#f4627f"/></svg>
<div class="t" id="x117" style="left:91.8px;top:554px;font-size:13px;color:#666;z-index:3;">5</div>
<div class="t" id="x118" style="left:91.8px;top:831px;font-size:13px;color:#666;z-index:3;">0</div>
<div class="t" id="x119" style="left:111.3px;top:851px;font-size:13px;color:#666;z-index:3;transform:translateX(-50%);">Jan</div>
<div class="t" id="x120" style="left:158.9px;top:851px;font-size:13px;color:#666;z-index:3;transform:translateX(-50%);">Feb</div>
<div class="t" id="x121" style="left:206.6px;top:851px;font-size:13px;color:#666;z-index:3;transform:translateX(-50%);">Mar</div>
<div class="t" id="x122" style="left:254.2px;top:851px;font-size:13px;color:#666;z-index:3;transform:translateX(-50%);">Apr</div>
<div class="t" id="x123" style="left:301.8px;top:851px;font-size:13px;color:#666;z-index:3;transform:translateX(-50%);">May</div>
<div class="t" id="x124" style="left:349.5px;top:851px;font-size:13px;color:#666;z-index:3;transform:translateX(-50%);">Jun</div>
<div class="t" id="x125" style="left:397.1px;top:851px;font-size:13px;color:#666;z-index:3;transform:translateX(-50%);">Jul</div>
<div class="t" id="x126" style="left:444.8px;top:851px;font-size:13px;color:#666;z-index:3;transform:translateX(-50%);">Aug</div>
<div class="t" id="x127" style="left:492.4px;top:851px;font-size:13px;color:#666;z-index:3;transform:translateX(-50%);">Sep</div>
<div class="t" id="x128" style="left:540.0px;top:851px;font-size:13px;color:#666;z-index:3;transform:translateX(-50%);">Oct</div>
<div class="t" id="x129" style="left:587.7px;top:851px;font-size:13px;color:#666;z-index:3;transform:translateX(-50%);">Nov</div>
<div class="t" id="x130" style="left:635.3px;top:851px;font-size:13px;color:#666;z-index:3;transform:translateX(-50%);">Dec</div>
<div class="abs" style="left:403px;top:538.5px;width:247px;height:112px;background:#fff;border:1px solid #dcdfe3;border-radius:4px;box-shadow:0 3px 9px rgba(40,50,70,.22);z-index:8"></div>
<div class="t" id="x131" style="left:411.8px;top:547px;font-size:13px;color:#7d848c;z-index:9;letter-spacing:0.43px;">Year</div>
<div class="abs" style="left:412.5px;top:575.5px;width:228.5px;height:27.5px;background:#fff;border:1px solid #dedfe2;border-radius:2px;z-index:9"></div>
<div class="t" id="x132" style="left:417.6px;top:579px;font-size:14.6px;color:#4a4a4a;z-index:10;letter-spacing:0.16px;">2023</div>
<div class="abs" style="left:412.5px;top:611.7px;width:228.5px;height:29px;background:#166de0;border-radius:2px;z-index:9"></div>
<div class="t" id="x133" style="left:501.2px;top:617px;font-size:15.4px;color:#fff;font-weight:bold;z-index:10;letter-spacing:-0.24px;">Search</div>
<div class="card" style="left:672px;top:497px;width:739.5px;height:390.5px"></div>
<div class="hl" style="left:672px;top:542px;width:739.5px;z-index:3;background:#e3e5e8"></div>
<div class="t" id="x134" style="left:684.9px;top:509px;font-size:15.2px;color:#2f3640;z-index:3;letter-spacing:0.82px;">Activity</div>
<svg class="abs" style="left:1336.1px;top:508.2px;z-index:3" width="18" height="18" viewBox="0 0 18 18"><circle cx="9" cy="9.2" r="8.6" fill="#0d78fb"/><circle cx="9" cy="4.9" r="1.45" fill="#fff"/><path d="M6.6 7.6 H10.3 V12.3 H11.6 V13.9 H6.5 V12.3 H7.8 V9.2 H6.6Z" fill="#fff"/></svg>
<svg class="abs" style="left:1373.2px;top:509.0px;z-index:3" width="16" height="16" viewBox="0 0 18 17" preserveAspectRatio="none"><path d="M.9 0 H17.1 Q18.4 .3 17.6 1.5 L11.3 8.6 V15.6 Q11.1 16.9 9.9 16.2 L7.1 14.1 Q6.7 13.7 6.7 13.2 V8.6 L.4 1.5 Q-.4 .3 .9 0Z" fill="#0d78fb"/></svg>
<svg class="abs" style="left:672px;top:497px;z-index:3" width="739" height="390" viewBox="672 497 739 390"><path d="M699.5 564.3 H1395.3" stroke="#e3e3e3" stroke-width="1.2"/><path d="M710.8 564.3 V841" stroke="#dcdcdc" stroke-width="1.2"/><rect x="727.3" y="785.4" width="22.8" height="55.3" fill="#cdb3fd" stroke="#a97be8" stroke-width="1.3"/><rect x="727.3" y="674.8" width="22.8" height="110.6" fill="#fde083" stroke="#f2c53d" stroke-width="1.3"/><rect x="784.4" y="785.4" width="22.8" height="55.3" fill="#cdb3fd" stroke="#a97be8" stroke-width="1.3"/><rect x="784.4" y="619.5" width="22.8" height="165.9" fill="#fde083" stroke="#f2c53d" stroke-width="1.3"/><rect x="898.4" y="785.4" width="22.8" height="55.3" fill="#fde083" stroke="#f2c53d" stroke-width="1.3"/><rect x="955.5" y="785.4" width="22.8" height="55.3" fill="#93d3a1" stroke="#4dad63" stroke-width="1.3"/><rect x="1126.6" y="785.4" width="22.8" height="55.3" fill="#fde083" stroke="#f2c53d" stroke-width="1.3"/><rect x="1183.7" y="619.5" width="22.8" height="221.2" fill="#cdb3fd" stroke="#a97be8" stroke-width="1.3"/><rect x="1240.7" y="785.4" width="22.8" height="55.3" fill="#cdb3fd" stroke="#a97be8" stroke-width="1.3"/><path d="M699.5 841 H1395.3" stroke="#b9b9b9" stroke-width="1.3"/></svg>
<div class="t" id="x135" style="left:690.9px;top:554px;font-size:13px;color:#444;font-weight:bold;z-index:3;">5</div>
<div class="t" id="x136" style="left:690.9px;top:831px;font-size:13px;color:#444;font-weight:bold;z-index:3;">0</div>
<div class="t" id="x137" style="left:738.9px;top:851px;font-size:13px;color:#4a4a4a;font-weight:bold;z-index:3;transform:translateX(-50%);">Jan</div>
<div class="t" id="x138" style="left:796.0px;top:851px;font-size:13px;color:#4a4a4a;font-weight:bold;z-index:3;transform:translateX(-50%);">Feb</div>
<div class="t" id="x139" style="left:853.0px;top:851px;font-size:13px;color:#4a4a4a;font-weight:bold;z-index:3;transform:translateX(-50%);">Mar</div>
<div class="t" id="x140" style="left:910.0px;top:851px;font-size:13px;color:#4a4a4a;font-weight:bold;z-index:3;transform:translateX(-50%);">Apr</div>
<div class="t" id="x141" style="left:967.1px;top:851px;font-size:13px;color:#4a4a4a;font-weight:bold;z-index:3;transform:translateX(-50%);">May</div>
<div class="t" id="x142" style="left:1024.1px;top:851px;font-size:13px;color:#4a4a4a;font-weight:bold;z-index:3;transform:translateX(-50%);">Jun</div>
<div class="t" id="x143" style="left:1081.2px;top:851px;font-size:13px;color:#4a4a4a;font-weight:bold;z-index:3;transform:translateX(-50%);">Jul</div>
<div class="t" id="x144" style="left:1138.2px;top:851px;font-size:13px;color:#4a4a4a;font-weight:bold;z-index:3;transform:translateX(-50%);">Aug</div>
<div class="t" id="x145" style="left:1195.3px;top:851px;font-size:13px;color:#4a4a4a;font-weight:bold;z-index:3;transform:translateX(-50%);">Sep</div>
<div class="t" id="x146" style="left:1252.3px;top:851px;font-size:13px;color:#4a4a4a;font-weight:bold;z-index:3;transform:translateX(-50%);">Oct</div>
<div class="t" id="x147" style="left:1309.3px;top:851px;font-size:13px;color:#4a4a4a;font-weight:bold;z-index:3;transform:translateX(-50%);">Nov</div>
<div class="t" id="x148" style="left:1366.4px;top:851px;font-size:13px;color:#4a4a4a;font-weight:bold;z-index:3;transform:translateX(-50%);">Dec</div>
<div class="card" style="left:1421px;top:497px;width:441px;height:390.5px"></div>
<div class="hl" style="left:1421px;top:537px;width:441px;z-index:3;background:#e3e5e8"></div>
<div class="t" id="x149" style="left:1433.6px;top:509px;font-size:15.4px;color:#333a45;z-index:3;letter-spacing:0.44px;">Submittal Log</div>
<svg class="abs" style="left:1821.0px;top:508.2px;z-index:3" width="18" height="18" viewBox="0 0 18 18"><circle cx="9" cy="9.2" r="8.6" fill="#0d78fb"/><circle cx="9" cy="4.9" r="1.45" fill="#fff"/><path d="M6.6 7.6 H10.3 V12.3 H11.6 V13.9 H6.5 V12.3 H7.8 V9.2 H6.6Z" fill="#fff"/></svg>
<svg class="abs" style="left:1421px;top:540px;z-index:3" width="441" height="340" viewBox="1421 540 441 340"><path d="M1641.40 563.60 A131.8 131.8 0 0 1 1736.91 786.23 L1706.91 757.70 A90.4 90.4 0 0 0 1641.40 605.00Z" fill="#28a745" stroke="#28a745" stroke-width=".6"/><path d="M1736.91 786.23 A131.8 131.8 0 0 1 1547.04 787.42 L1576.68 758.51 A90.4 90.4 0 0 0 1706.91 757.70Z" fill="#007bff" stroke="#007bff" stroke-width=".6"/><path d="M1547.04 787.42 A131.8 131.8 0 0 1 1521.11 749.26 L1558.89 732.34 A90.4 90.4 0 0 0 1576.68 758.51Z" fill="#5f63df" stroke="#5f63df" stroke-width=".6"/><path d="M1521.11 749.26 A131.8 131.8 0 0 1 1510.97 714.38 L1551.94 708.42 A90.4 90.4 0 0 0 1558.89 732.34Z" fill="#f0288f" stroke="#f0288f" stroke-width=".6"/><path d="M1510.97 714.38 A131.8 131.8 0 0 1 1509.67 691.26 L1551.04 692.56 A90.4 90.4 0 0 0 1551.94 708.42Z" fill="#dc3545" stroke="#dc3545" stroke-width=".6"/><path d="M1509.67 691.26 A131.8 131.8 0 0 1 1641.40 563.60 L1641.40 605.00 A90.4 90.4 0 0 0 1551.04 692.56Z" fill="#1b9ae3" stroke="#1b9ae3" stroke-width=".6"/></svg>
<div class="t" id="x150" style="left:1743.5px;top:642px;font-size:13px;color:#fff;font-weight:bold;z-index:4;transform:translateX(-50%);">37%</div>
<div class="t" id="x151" style="left:1642.1px;top:797px;font-size:13px;color:#fff;font-weight:bold;z-index:4;transform:translateX(-50%);">26%</div>
<div class="t" id="x152" style="left:1549.5px;top:749px;font-size:13px;color:#fff;font-weight:bold;z-index:4;transform:translateX(-50%);">6%</div>
<div class="t" id="x153" style="left:1534.7px;top:717px;font-size:13px;color:#fff;font-weight:bold;z-index:4;transform:translateX(-50%);">4%</div>
<div class="t" id="x154" style="left:1530.5px;top:692px;font-size:13px;color:#fff;font-weight:bold;z-index:4;transform:translateX(-50%);">3%</div>
<div class="t" id="x155" style="left:1564.1px;top:606px;font-size:13px;color:#fff;font-weight:bold;z-index:4;transform:translateX(-50%);">24%</div>
<div class="t" id="x156" style="left:1597.3px;top:686px;font-size:14.2px;color:#3a3f47;z-index:4;letter-spacing:0.09px;">Submittal Log</div>
<div class="abs" style="left:1872px;top:72.8px;width:45px;height:44.4px;background:#fff;border-radius:5px 0 0 5px;box-shadow:0 1px 4px rgba(50,60,80,.28);z-index:26"></div>
<svg class="abs" style="left:1883.1px;top:84.2px;z-index:27;overflow:visible" width="28" height="28"><circle cx="2.9" cy="19.8" r="2.9" fill="#3180e3"/><path d="M0 10.5 A12.2 12.2 0 0 1 12.2 22.7" fill="none" stroke="#3180e3" stroke-width="3.9"/><path d="M0 1.9 A20.8 20.8 0 0 1 20.8 22.7" fill="none" stroke="#3180e3" stroke-width="3.9"/></svg>
<div class="abs" style="left:1872px;top:119.2px;width:45px;height:44.4px;background:#fff;border-radius:5px 0 0 5px;box-shadow:0 1px 4px rgba(50,60,80,.28);z-index:26"></div>
<svg class="abs" style="left:1883.1px;top:132.2px;z-index:27;overflow:visible" width="28" height="28"><circle cx="9.3" cy="9.2" r="7.7" fill="none" stroke="#3180e3" stroke-width="3.1"/><path d="M15 15 L20.4 20.3" stroke="#3180e3" stroke-width="3.3" stroke-linecap="round"/></svg>
<div class="abs" style="left:1872px;top:165.5px;width:45px;height:44.4px;background:#fff;border-radius:5px 0 0 5px;box-shadow:0 1px 4px rgba(50,60,80,.28);z-index:26"></div>
<svg class="abs" style="left:1882.9px;top:177.6px;z-index:27;overflow:visible" width="28" height="28"><g fill="#3180e3"><circle cx="4.5" cy="3.1" r="3"/><circle cx="17.5" cy="3.1" r="3"/><ellipse cx="3.1" cy="9.6" rx="3.1" ry="3.1"/><ellipse cx="18.9" cy="9.6" rx="3.1" ry="3.1"/><path d="M3.1 20.4 V17.4 Q3.1 12 8.5 12 H13.5 Q18.9 12 18.9 17.4 V20.4 Q18.9 22.3 17 22.3 H5 Q3.1 22.3 3.1 20.4Z"/></g><circle cx="11" cy="8.2" r="5.3" fill="#fff"/><circle cx="11" cy="8.2" r="4.5" fill="#3180e3"/></svg>
<div class="abs" style="left:1872px;top:211.9px;width:45px;height:44.4px;background:#fff;border-radius:5px 0 0 5px;box-shadow:0 1px 4px rgba(50,60,80,.28);z-index:26"></div>
<svg class="abs" style="left:1883.9px;top:224.0px;z-index:27;overflow:visible" width="28" height="28"><path d="M11.4 4.6 Q12.6 0 16 0.4 Q18.6 .8 18.8 3.6 Q20.8 4.6 20.2 7 Q19.4 9.6 16.6 9 Q13 8.6 11.4 4.6Z" fill="#555"/><path d="M3 11.2 Q-.4 11 .2 8 Q.8 6.2 2.6 6.2 Q3.2 2.2 6.8 1.4 Q10.4 1 11.8 4.2 Q14.6 3.4 15.6 6 Q18.4 6 18.4 8.8 Q18.2 11.2 15.6 11.2Z" fill="#6c6c6c"/><path d="M9.6 8.4 L11.2 8.6 L9 13 L10.4 13.2 L4.8 20.8 L7.2 14.6 L5.8 14.4Z" fill="#f6c514"/></svg>
<div class="abs" style="left:1872px;top:258.2px;width:45px;height:44.4px;background:#fff;border-radius:5px 0 0 5px;box-shadow:0 1px 4px rgba(50,60,80,.28);z-index:26"></div>
<svg class="abs" style="left:1882.9px;top:269.9px;z-index:27;overflow:visible" width="28" height="28"><g fill="#3180e3"><path d="M7.4 0 H15.2 Q16.6 0 16.6 1.4 V6.4 Q16.6 7.8 15.2 7.8 H12.4 L11.3 9 L10.2 7.8 H7.4 Q6 7.8 6 6.4 V1.4 Q6 0 7.4 0Z"/><path d="M1.2 1.2 H3.2 Q4 1.2 4 2 V8 L4.8 10 L2.6 8.8 H1.2 Q0 8.6 0 7.6 V2.4 Q0 1.2 1.2 1.2Z"/><path d="M20.8 1.2 H18.8 Q18 1.2 18 2 V8 L17.2 10 L19.4 8.8 H20.8 Q22 8.6 22 7.6 V2.4 Q22 1.2 20.8 1.2Z"/><circle cx="11" cy="14.1" r="2.9"/><circle cx="3.6" cy="14.6" r="2"/><circle cx="18.4" cy="14.6" r="2"/><path d="M6 23 V21.4 Q6 18 9.4 18 H12.6 Q16 18 16 21.4 V23Z"/><path d="M0 20.8 V20 Q.2 17.4 3 17.4 H5.8 Q4.6 18.8 4.6 20.8Z"/><path d="M22 20.8 V20 Q21.8 17.4 19 17.4 H16.2 Q17.4 18.8 17.4 20.8Z"/></g></svg>
<div class="abs" style="left:1872px;top:304.6px;width:45px;height:44.4px;background:#fff;border-radius:5px 0 0 5px;box-shadow:0 1px 4px rgba(50,60,80,.28);z-index:26"></div>
<svg class="abs" style="left:1882.9px;top:316.0px;z-index:27;overflow:visible" width="28" height="28"><g fill="#3180e3"><path d="M0 0 L7.9 1.7 V23 L0 20.6Z"/><path d="M0 0 H14.4 V5.4 H13.2 V1.3 H0Z"/><circle cx="17.5" cy="3.7" r="1.9"/><rect x="18" y="12.6" width="4" height="4.1" rx=".5"/></g><g fill="none" stroke="#3180e3" stroke-linecap="round" stroke-linejoin="round"><path d="M9 12.4 Q9.8 7.4 15.4 6.6" stroke-width="1.7"/><path d="M15.8 6.8 L13.2 13.6" stroke-width="2.8"/><path d="M13.2 13.4 L9.8 21.2" stroke-width="1.9"/><path d="M13.6 13.6 L15.4 21.2" stroke-width="1.9"/><path d="M12.4 15.4 L12.6 20.6" stroke-width="1.2"/><path d="M16.6 7.4 L19.6 11.4" stroke-width="1.6"/><path d="M18.6 12.6 Q20 10.6 21.4 12.6" stroke-width="1"/></g><rect x="5.5" y="10.8" width="1.2" height="3.6" fill="#cfe2fa"/></svg>
<div class="abs" style="left:1872px;top:350.9px;width:45px;height:44.4px;background:#fff;border-radius:5px 0 0 5px;box-shadow:0 1px 4px rgba(50,60,80,.28);z-index:26"></div>
<svg class="abs" style="left:1882.0px;top:361.4px;z-index:27;overflow:visible" width="28" height="28"><circle cx="12" cy="12" r="11.3" fill="#3180e3"/><path d="M5.4 10.4 L11.6 16.2 L22.4 4.8" fill="none" stroke="#fff" stroke-width="3.7"/></svg>
<div class="abs" style="left:1872px;top:397.2px;width:45px;height:44.4px;background:#fff;border-radius:5px 0 0 5px;box-shadow:0 1px 4px rgba(50,60,80,.28);z-index:26"></div>
<svg class="abs" style="left:1882.0px;top:407.2px;z-index:27;overflow:visible" width="28" height="28"><circle cx="12" cy="12" r="10.3" fill="#3180e3"/><rect x="10.5" y="5" width="3.1" height="9.4" rx="1.3" fill="#fff"/><circle cx="12" cy="17.6" r="1.8" fill="#fff"/><rect x="12" y="11.6" width="14.8" height="14.9" rx="3.4" fill="#dc3545"/></svg>
<div class="t" id="x157" style="left:1897.2px;top:416px;font-size:11px;color:#fff;z-index:28;">0</div>
<div class="abs" style="left:1915px;top:44px;width:5px;height:872px;background:#dadada;border-left:1px solid #c4c4c4;z-index:24"></div>
<div class="abs" style="left:1915.4px;top:382.4px;width:4.6px;height:534px;background:#696969;border-left:1px solid #585858;z-index:25"></div>
<div class="abs" style="left:1848px;top:825px;width:56px;height:56px;border-radius:50%;background:#4f76e8;z-index:40;box-shadow:0 1px 3px rgba(40,60,140,.18)"></div>
<svg class="abs" style="left:1861px;top:839px;z-index:41" width="30" height="28" viewBox="0 0 30 28"><ellipse cx="15.6" cy="12.8" rx="12.7" ry="10.5" fill="#fff"/><path d="M4.6 16 Q5.6 21.4 2.8 25.2 Q7.6 24.8 11.4 22 Z" fill="#fff"/><circle cx="10.4" cy="12.9" r="1.35" fill="#4f6fd8"/><circle cx="15.6" cy="12.9" r="1.35" fill="#4f6fd8"/><circle cx="20.8" cy="12.9" r="1.35" fill="#4f6fd8"/></svg>
</body>
</html>
